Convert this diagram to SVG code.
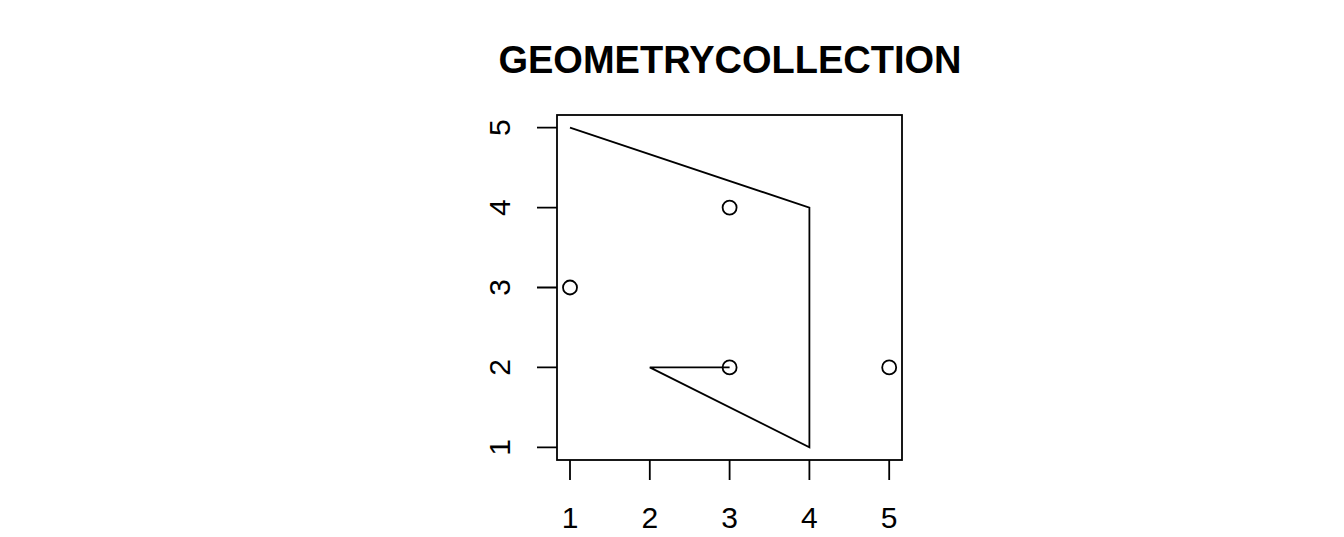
<svg xmlns="http://www.w3.org/2000/svg" width="1344" height="537" viewBox="0 0 1344 537">
<style>
.ln{fill:none;stroke:#000;stroke-width:1.8}
.pt{fill:none;stroke:#000;stroke-width:1.8}
.lab{font-family:"Liberation Sans",Arial,sans-serif;font-size:30px;fill:#000;text-anchor:middle}
.title{font-family:"Liberation Sans",Arial,sans-serif;font-size:38px;font-weight:bold;fill:#000;text-anchor:middle}
</style>
<rect width="1344" height="537" fill="#fff"/>
<text class="title" x="730" y="73">GEOMETRYCOLLECTION</text>
<g id="axes" class="ln">
<rect x="557" y="115" width="345" height="345"/>
<path d="M570 460V480M649.8 460V480M729.6 460V480M809.4 460V480M889.2 460V480"/>
<path d="M557 447.3H537M557 367.4H537M557 287.5H537M557 207.6H537M557 127.7H537"/>
</g>
<g id="xlabels">
<text class="lab" x="570" y="528">1</text>
<text class="lab" x="649.8" y="528">2</text>
<text class="lab" x="729.6" y="528">3</text>
<text class="lab" x="809.4" y="528">4</text>
<text class="lab" x="889.2" y="528">5</text>
</g>
<g id="ylabels">
<text class="lab" transform="translate(510 447.3) rotate(-90)">1</text>
<text class="lab" transform="translate(510 367.4) rotate(-90)">2</text>
<text class="lab" transform="translate(510 287.5) rotate(-90)">3</text>
<text class="lab" transform="translate(510 207.6) rotate(-90)">4</text>
<text class="lab" transform="translate(510 127.7) rotate(-90)">5</text>
</g>
<g id="connectors">
<polyline class="ln" points="570,127.7 809.4,207.6 809.4,447.3 649.8,367.4 729.6,367.4"/>
</g>
<g id="points">
<circle class="pt" cx="729.6" cy="207.6" r="7"/>
<circle class="pt" cx="570" cy="287.5" r="7"/>
<circle class="pt" cx="729.6" cy="367.4" r="7"/>
<circle class="pt" cx="889.2" cy="367.4" r="7"/>
</g>
</svg>
